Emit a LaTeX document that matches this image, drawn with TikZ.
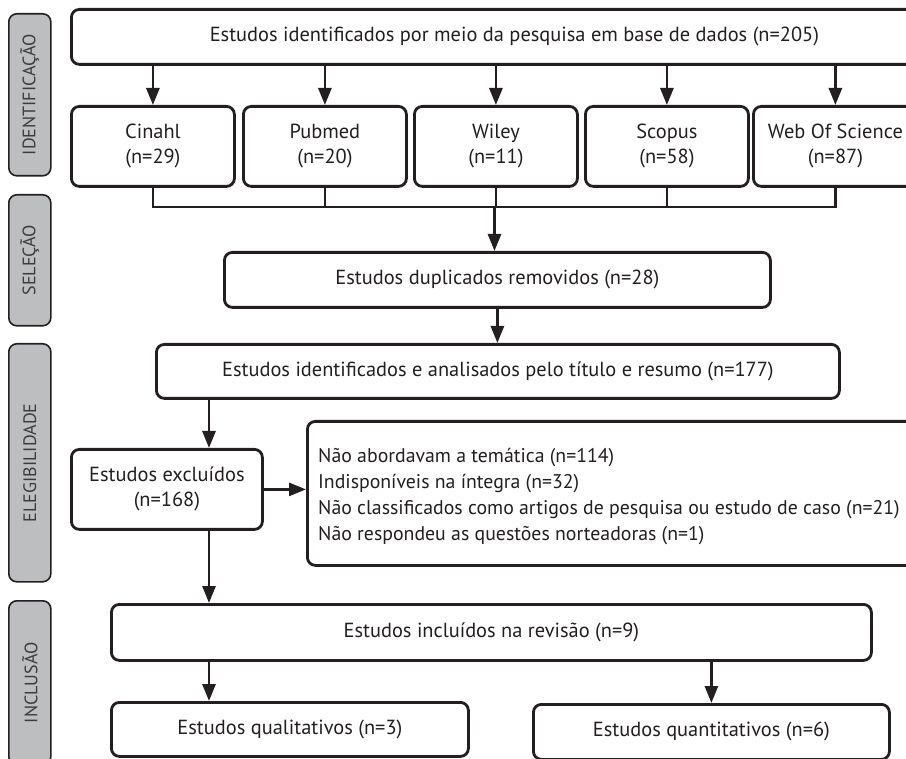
\documentclass[tikz,border=0pt]{standalone}
\usepackage{fontspec}
\setmainfont{PT Sans}
\usetikzlibrary{arrows.meta}
\definecolor{ink}{HTML}{231F20}
\definecolor{side}{HTML}{BCBEC0}
\definecolor{sidetext}{HTML}{3C3C3E}
\begin{document}
\begin{tikzpicture}[x=1pt,y=-1pt,
 box/.style={draw=ink, line width=2.8pt, rounded corners=8pt, fill=white, inner sep=0pt, anchor=north west, text=ink, align=center, font=\fontsize{20.4}{25}\selectfont},
 sidebox/.style={draw=ink, line width=1.6pt, rounded corners=8pt, fill=side, inner sep=0pt, anchor=north west, minimum width=42pt},
 sidelbl/.style={rotate=90, font=\fontsize{18}{22}\selectfont, text=sidetext},
 arr/.style={draw=ink, line width=2.8pt, -{Triangle[length=17pt,width=13pt]}},
 ln/.style={draw=ink, line width=2.8pt}
]
\useasboundingbox (0,0) rectangle (906,759);
\clip (0,0) rectangle (906,759);

% sidebars
\node[sidebox, minimum height=162pt] (s1) at (8,13) {};
\node[sidelbl] at (s1.center) {IDENTIFICAÇÃO};
\node[sidebox, minimum height=131pt] (s2) at (8,194) {};
\node[sidelbl] at (s2.center) {SELEÇÃO};
\node[sidebox, minimum height=238pt] (s3) at (8,343) {};
\node[sidelbl] at (s3.center) {ELEGIBILIDADE};
\node[sidebox, minimum height=164pt] (s4) at (8,600) {};
\node[sidelbl] at (s4.center) {INCLUSÃO};

% boxes
\node[box, minimum width=886pt, minimum height=55pt] (top) at (70,8) {Estudos identificados por meio da pesquisa em base de dados (n=205)};
\node[box, minimum width=163pt, minimum height=80pt] (cin) at (70,105) {Cinahl\\(n=29)};
\node[box, minimum width=163pt, minimum height=80pt] (pub) at (242,105) {Pubmed\\(n=20)};
\node[box, minimum width=163pt, minimum height=80pt] (wil) at (413,105) {Wiley\\(n=11)};
\node[box, minimum width=163pt, minimum height=80pt] (sco) at (584,105) {Scopus\\(n=58)};
\node[box, minimum width=164pt, minimum height=80pt] (wos) at (752,105) {Web Of Science\\(n=87)};
\node[box, minimum width=546pt, minimum height=55pt] (dup) at (223,251) {Estudos duplicados removidos (n=28)};
\node[box, minimum width=683pt, minimum height=54pt] (tit) at (155,343) {Estudos identificados e analisados pelo título e resumo (n=177)};
\node[box, minimum width=191pt, minimum height=80pt] (exc) at (70,448) {Estudos excluídos\\(n=168)};
\node[box, minimum width=624pt, minimum height=144pt] (rea) at (306,420) {};
\node[anchor=west, align=left, text=ink, font=\fontsize{19.8}{26}\selectfont, inner sep=0pt] (reatxt) at (318,497) {Não abordavam a temática (n=114)\\Indisponíveis na íntegra (n=32)\\Não classificados como artigos de pesquisa ou estudo de caso (n=21)\\Não respondeu as questões norteadoras (n=1)};
\node[box, minimum width=760pt, minimum height=56pt] (inc) at (110,603) {Estudos incluídos na revisão (n=9)};
\node[box, minimum width=357pt, minimum height=54pt] (qual) at (110,701) {Estudos qualitativos (n=3)};
\node[box, minimum width=356pt, minimum height=55pt] (quan) at (532,703) {Estudos quantitativos (n=6)};

\coordinate (merge) at (494.5,207);
\coordinate (c209) at (209,0);

% connectors
\foreach \n in {cin,pub,wil,sco,wos} \draw[arr] (top.south -| \n.north) -- (\n.north);
\draw[ln] (cin.south) -- (cin.south |- merge) -- (wos.south |- merge) -- (wos.south);
\foreach \n in {pub,wil,sco} \draw[ln] (\n.south) -- (\n.south |- merge);
\draw[arr] (merge) -- (merge |- dup.north);
\draw[arr] (dup.south) -- (tit.north -| dup.south);
\draw[arr] (tit.south -| c209) -- (exc.north -| c209);
\draw[arr] (exc.east) -- (exc.east -| rea.west);
\draw[arr] (exc.south -| c209) -- (inc.north -| c209);
\draw[arr] (inc.south -| c209) -- (qual.north -| c209);
\draw[arr] (inc.south -| quan.north) -- (quan.north);
\end{tikzpicture}
\end{document}
